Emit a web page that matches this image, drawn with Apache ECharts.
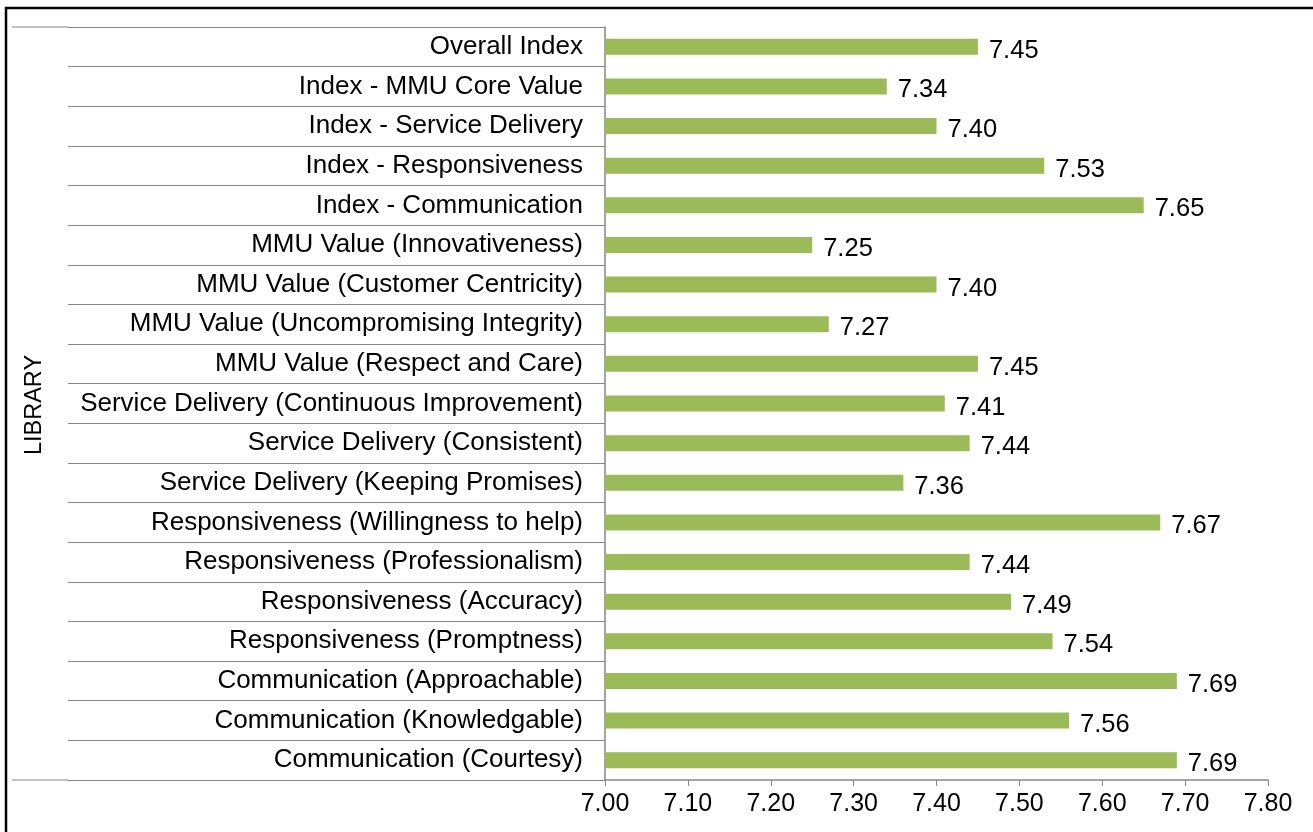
<!DOCTYPE html>
<html>
<head>
<meta charset="utf-8">
<title>LIBRARY</title>
<script src="https://cdn.jsdelivr.net/npm/echarts@6/dist/echarts.min.js"></script>
<style>
  html, body { margin: 0; padding: 0; background: #fff; }
  #chart { width: 1313px; height: 832px; }
</style>
</head>
<body>
<div id="chart"></div>
<script>
// categories, bottom to top (as the axis draws them)
var categories = [
  "Communication (Courtesy)",
  "Communication (Knowledgable)",
  "Communication (Approachable)",
  "Responsiveness (Promptness)",
  "Responsiveness (Accuracy)",
  "Responsiveness (Professionalism)",
  "Responsiveness (Willingness to help)",
  "Service Delivery (Keeping Promises)",
  "Service Delivery (Consistent)",
  "Service Delivery (Continuous Improvement)",
  "MMU Value (Respect and Care)",
  "MMU Value (Uncompromising Integrity)",
  "MMU Value (Customer Centricity)",
  "MMU Value (Innovativeness)",
  "Index - Communication",
  "Index - Responsiveness",
  "Index - Service Delivery",
  "Index - MMU Core Value",
  "Overall Index"
];
var scores = [7.69, 7.56, 7.69, 7.54, 7.49, 7.44, 7.67, 7.36, 7.44, 7.41,
              7.45, 7.27, 7.40, 7.25, 7.65, 7.53, 7.40, 7.34, 7.45];
var groupName = "LIBRARY";

var chart = echarts.init(document.getElementById("chart"));
var font = "Liberation Sans, Arial, sans-serif";

chart.setOption({
  animation: false,
  grid: { left: 605, right: 45, top: 27, bottom: 52 },
  xAxis: {
    type: "value",
    min: 7.0,
    max: 7.8,
    interval: 0.1,
    axisLine: { show: true, lineStyle: { color: "#868686", width: 1.5 } },
    axisTick: { show: true, length: 6, lineStyle: { color: "#868686" } },
    splitLine: { show: false },
    axisLabel: {
      color: "#000", fontFamily: font, fontSize: 25, margin: 12,
      formatter: function (v) { return v.toFixed(2); }
    }
  },
  yAxis: {
    type: "category",
    data: categories,
    axisLine: { show: true, lineStyle: { color: "#868686", width: 1.5 } },
    axisTick: { show: true, length: 537, lineStyle: { color: "#868686", width: 1.2 } },
    axisLabel: { color: "#000", fontFamily: font, fontSize: 26, margin: 22 }
  },
  series: [{
    type: "bar",
    data: scores,
    barWidth: 16,
    itemStyle: { color: "#9BBB59" },
    label: {
      show: true,
      position: "right",
      distance: 11,
      offset: [0, 4],
      color: "#000",
      fontFamily: font,
      fontSize: 25.5,
      formatter: function (p) { return p.value.toFixed(2); }
    }
  }],
  graphic: [
    { type: "rect", shape: { x: 6, y: 8, width: 1400, height: 900 },
      style: { fill: null, stroke: "#000", lineWidth: 2.5 } },
    { type: "line", shape: { x1: 12, y1: 27, x2: 68, y2: 27 },
      style: { stroke: "#868686", lineWidth: 1.2 } },
    { type: "line", shape: { x1: 12, y1: 780, x2: 68, y2: 780 },
      style: { stroke: "#868686", lineWidth: 1.2 } },
    { type: "text", x: 35, y: 405, rotation: Math.PI / 2,
      style: { text: groupName, fill: "#000", font: "23.5px " + font,
               textAlign: "center", textVerticalAlign: "middle" } }
  ]
});
</script>
</body>
</html>
